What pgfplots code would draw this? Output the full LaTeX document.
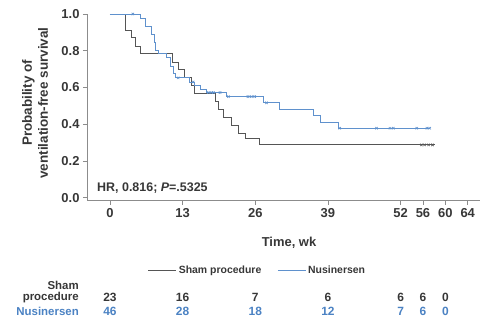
\documentclass[border=0pt]{standalone}
\usepackage{fontspec}
\setmainfont{Liberation Sans}
\usepackage{pgfplots}
\pgfplotsset{compat=1.18}
\definecolor{txt}{RGB}{55,55,55}
\definecolor{shamc}{RGB}{85,85,85}
\definecolor{nusc}{RGB}{95,145,205}
\definecolor{nust}{RGB}{75,130,195}
\definecolor{axc}{RGB}{140,140,140}
\tikzset{sr/.style={font=\fontsize{12}{13}\selectfont\bfseries, text=txt},
         nr/.style={font=\fontsize{12}{13}\selectfont\bfseries, text=nust}}
\begin{document}
\begin{tikzpicture}
\path[use as bounding box] (-87bp,-128.3bp) rectangle (396bp,200.7bp);
\begin{axis}[
  at={(0,0)}, anchor=south west,
  scale only axis, width=393bp, height=186.7bp,
  xmin=-4.1, xmax=66.2, ymin=-0.017, ymax=1.0,
  axis x line*=bottom, axis y line*=left,
  xtick={0,13,26,39,52,56,60,64},
  ytick={0,0.2,0.4,0.6,0.8,1.0},
  yticklabel style={/pgf/number format/.cd, fixed, fixed zerofill, precision=1},
  /pgf/number format/assume math mode=true,
  tick align=outside, major tick length=4bp,
  axis line style={axc, line width=0.6bp}, tick style={axc, line width=0.6bp},
  ticklabel style={font=\fontsize{13}{15}\selectfont\bfseries, text=txt},
  clip=false,
  legend style={at={(0.434,-0.371)}, anchor=center, draw=none, fill=none,
    font=\fontsize{10.5}{12}\selectfont\bfseries, text=txt,
    /tikz/every even column/.append style={column sep=14bp}},
  legend columns=2,
  legend image code/.code={\draw[#1, line width=0.8bp] (0bp,0bp) -- (28bp,0bp);},
]
% Sham procedure
\addplot[const plot, shamc, line width=0.8bp] coordinates {
 (0,1.0) (2.7,0.913) (3.9,0.870) (4.5,0.826) (5.4,0.783)
 (11.2,0.739) (12.2,0.696) (13.4,0.652) (14.6,0.609) (15.2,0.565)
 (18.9,0.522) (19.4,0.478) (20.3,0.435) (21.8,0.391) (23.0,0.348)
 (24.2,0.320) (26.8,0.287) (58.1,0.287)};
\addlegendentry{Sham procedure}
% Nusinersen
\addplot[const plot, nusc, line width=0.8bp] coordinates {
 (0,1.0) (5.4,0.978) (6.3,0.935) (7.5,0.891) (7.9,0.848) (8.2,0.804)
 (8.6,0.783) (10.1,0.761) (10.8,0.717) (11.3,0.674) (11.8,0.652)
 (14.2,0.630) (15.2,0.609) (16.2,0.587) (17.2,0.572) (20.8,0.550)
 (27.4,0.516) (30.4,0.482) (36.4,0.446) (37.6,0.412) (40.9,0.378)
 (57.3,0.378)};
\addlegendentry{Nusinersen}
% censor marks
\addplot[only marks, mark=x, mark size=1.7bp, shamc, line width=0.6bp, forget plot] coordinates {
 (55.7,0.287) (56.3,0.287) (57.0,0.287) (57.7,0.287)};
\addplot[only marks, mark=x, mark size=1.7bp, nusc, line width=0.6bp, forget plot] coordinates {
 (4.1,1.0) (12.2,0.652) (14.9,0.630) (17.6,0.572) (18.2,0.572) (18.5,0.572)
 (19.7,0.572) (21.2,0.550) (24.7,0.550) (25.3,0.550) (25.9,0.550)
 (28.0,0.516) (41.1,0.378) (47.7,0.378) (50.1,0.378) (50.7,0.378)
 (54.9,0.378) (56.7,0.378) (57.2,0.378)};
% numbers at risk
\node[sr] at (axis cs:0,-0.542) {23};
\node[sr] at (axis cs:13,-0.542) {16};
\node[sr] at (axis cs:26,-0.542) {7};
\node[sr] at (axis cs:39,-0.542) {6};
\node[sr] at (axis cs:52,-0.542) {6};
\node[sr] at (axis cs:56,-0.542) {6};
\node[sr] at (axis cs:60,-0.542) {0};
\node[nr] at (axis cs:0,-0.618) {46};
\node[nr] at (axis cs:13,-0.618) {28};
\node[nr] at (axis cs:26,-0.618) {18};
\node[nr] at (axis cs:39,-0.618) {12};
\node[nr] at (axis cs:52,-0.618) {7};
\node[nr] at (axis cs:56,-0.618) {6};
\node[nr] at (axis cs:60,-0.618) {0};
\end{axis}
% y label
\node[rotate=90, align=center, text=txt, font=\fontsize{13.5}{16}\selectfont\bfseries] at (-52bp,97.7bp)
  {Probability of\\ventilation-free survival};
% HR text
\node[anchor=west, inner sep=0pt, text=txt, font=\fontsize{12.5}{14}\selectfont\bfseries] at (10bp,12.7bp)
  {HR, 0.816; \textit{P}=.5325};
% x label
\node[text=txt, font=\fontsize{13}{15}\selectfont\bfseries] at (202bp,-42.3bp) {Time, wk};
% risk table row labels
\node[anchor=east, inner sep=0pt, align=right, text=txt, font=\fontsize{11.5}{11}\selectfont\bfseries] at (-8bp,-91bp)
  {Sham\\procedure};
\node[anchor=east, inner sep=0pt, text=nust, font=\fontsize{11.5}{13}\selectfont\bfseries] at (-8bp,-110.3bp)
  {Nusinersen};
\end{tikzpicture}
\end{document}
